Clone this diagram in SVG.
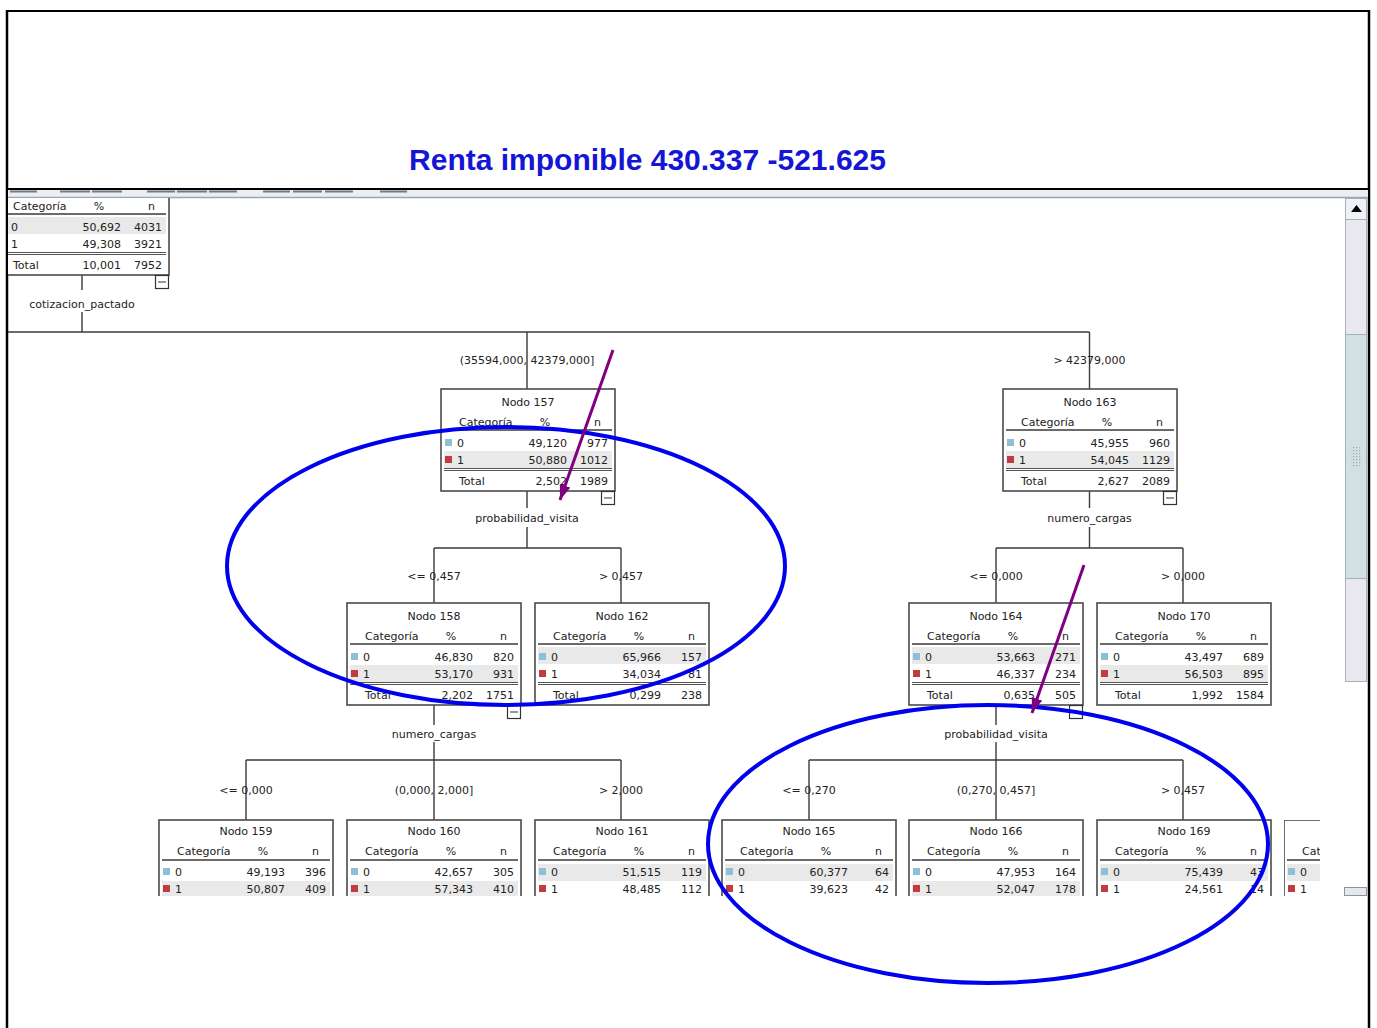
<svg xmlns="http://www.w3.org/2000/svg" width="1377" height="1028" viewBox="0 0 1377 1028">
<style>
.box{fill:#fff;stroke:#4a4a4a;stroke-width:1.6}
.hl{fill:#e9e9e9}
.hr{stroke:#6b6b6b;stroke-width:2}
.dl{stroke:#555;stroke-width:1}
.c0{fill:#8dbfd9}
.c1{fill:#c23b3e}
.t{font-family:"DejaVu Sans","Liberation Sans",sans-serif;font-size:11px;fill:#222;stroke:none}
.m{text-anchor:middle}
.e{text-anchor:end}
.cn{fill:none;stroke:#3a3a3a;stroke-width:1.4}
.mn{fill:#fff;stroke:#333;stroke-width:1.2}
.ell{fill:none;stroke:#0000ee;stroke-width:4}
.arr{stroke:#800080;stroke-width:3;marker-end:url(#ah)}
</style>
<defs>
<marker id="ah" markerUnits="userSpaceOnUse" markerWidth="16" markerHeight="12" refX="15" refY="5.5" orient="auto">
<path d="M0,0 L15,5.5 L0,11 z" fill="#800080"/>
</marker>
<clipPath id="tree"><rect x="8" y="198" width="1336" height="698"/></clipPath>
<clipPath id="cut"><rect x="0" y="0" width="36" height="200"/></clipPath>
<pattern id="grip" width="3" height="3" patternUnits="userSpaceOnUse"><rect width="1.2" height="1.2" fill="#9aaab0"/></pattern>
</defs>
<rect width="1377" height="1028" fill="#fff"/>
<g id="frame" stroke="#000" fill="none">
<line x1="7" y1="11" x2="1370" y2="11" stroke-width="2"/>
<line x1="7" y1="10" x2="7" y2="1028" stroke-width="2.5"/>
<line x1="1369" y1="10" x2="1369" y2="1028" stroke-width="2.5"/>
<line x1="7" y1="189" x2="1369" y2="189" stroke-width="2"/>
</g>
<text x="647.5" y="170" text-anchor="middle" font-family="Liberation Sans, Arial, sans-serif" font-weight="bold" font-size="30" fill="#1515d5">Renta imponible 430.337 -521.625</text>
<g id="toolbar">
<rect x="8" y="190" width="1360" height="7" fill="#eceef2"/>
<g stroke="#6f7b86" stroke-width="2">
<line x1="10" y1="191.5" x2="37" y2="191.5"/><line x1="60" y1="191.5" x2="90" y2="191.5"/><line x1="92" y1="191.5" x2="122" y2="191.5"/>
<line x1="147" y1="191.5" x2="175" y2="191.5"/><line x1="177" y1="191.5" x2="207" y2="191.5"/><line x1="209" y1="191.5" x2="237" y2="191.5"/>
<line x1="263" y1="191.5" x2="290" y2="191.5"/><line x1="293" y1="191.5" x2="322" y2="191.5"/><line x1="325" y1="191.5" x2="353" y2="191.5"/>
<line x1="380" y1="191.5" x2="407" y2="191.5"/>
</g>
<line x1="8" y1="197.5" x2="1368" y2="197.5" stroke="#9aa8b4" stroke-width="1.5"/>
</g>
<g id="scrollbar">
<rect x="1345.5" y="198.5" width="21" height="483" fill="#e8e8ee" stroke="#a5b0b8"/>
<rect x="1345.5" y="198.5" width="21" height="21" fill="#eff1f4" stroke="#a5b0b8"/>
<path d="M1351,212 L1356.5,205 L1362,212 z" fill="#000"/>
<rect x="1345.5" y="334.5" width="21" height="244" fill="#d2dfe3" stroke="#9fb3b9"/>
<rect x="1351" y="446" width="10" height="21" fill="url(#grip)"/>
<rect x="1344.5" y="887.5" width="22" height="8" fill="#e6e8ee" stroke="#8896a0"/>
</g>
<g clip-path="url(#tree)">
<g id="connectors">
<path class="cn" d="M82 275V290M82 312V332M8 332H1089.5M527 332V389M1089.5 332V389M527 491V508M527 527V548M434 548H621M434 548V603M621 548V603M1089.5 491V508M1089.5 527V548M996 548H1183M996 548V603M1183 548V603M434 705V725M434 742V760M246 760H621M246 760V820M434 760V820M621 760V820M996 705V725M996 742V760M809 760H1183M809 760V820M996 760V820M1183 760V820"/>
<text class="t m" x="82" y="308">cotizacion_pactado</text>
<text class="t m" x="527" y="364">(35594,000, 42379,000]</text>
<text class="t m" x="1089.5" y="364">&gt; 42379,000</text>
<text class="t m" x="527" y="522">probabilidad_visita</text>
<text class="t m" x="1089.5" y="522">numero_cargas</text>
<text class="t m" x="434" y="580">&lt;= 0,457</text>
<text class="t m" x="621" y="580">&gt; 0,457</text>
<text class="t m" x="996" y="580">&lt;= 0,000</text>
<text class="t m" x="1183" y="580">&gt; 0,000</text>
<text class="t m" x="434" y="738">numero_cargas</text>
<text class="t m" x="996" y="738">probabilidad_visita</text>
<text class="t m" x="246" y="794">&lt;= 0,000</text>
<text class="t m" x="434" y="794">(0,000, 2,000]</text>
<text class="t m" x="621" y="794">&gt; 2,000</text>
<text class="t m" x="809" y="794">&lt;= 0,270</text>
<text class="t m" x="996" y="794">(0,270, 0,457]</text>
<text class="t m" x="1183" y="794">&gt; 0,457</text>
</g>
<g id="node0" transform="translate(-5,173)">
<rect class="box" width="174" height="102"/>
<text class="t" x="18" y="37">Categoría</text><text class="t m" x="104" y="37">%</text><text class="t e" x="160" y="37">n</text>
<line class="hr" x1="3" y1="41" x2="171" y2="41"/>
<rect class="hl" x="3" y="44" width="168" height="17"/>
<rect class="c0" x="4" y="50" width="7" height="7"/><rect class="c1" x="4" y="67" width="7" height="7"/>
<text class="t" x="16" y="58">0</text><text class="t e" x="126" y="58">50,692</text><text class="t e" x="167" y="58">4031</text>
<text class="t" x="16" y="75">1</text><text class="t e" x="126" y="75">49,308</text><text class="t e" x="167" y="75">3921</text>
<line class="dl" x1="3" y1="79.5" x2="171" y2="79.5"/><line class="dl" x1="3" y1="81.5" x2="171" y2="81.5"/>
<text class="t" x="18" y="96">Total</text><text class="t e" x="126" y="96">10,001</text><text class="t e" x="167" y="96">7952</text>
<rect class="mn" x="160.5" y="102.5" width="13" height="13"/><line stroke="#333" x1="163" y1="109" x2="171" y2="109"/>
</g>
<g id="node157" transform="translate(441,389)">
<rect class="box" width="174" height="102"/>
<text class="t m" x="87" y="17">Nodo 157</text>
<text class="t" x="18" y="37">Categoría</text><text class="t m" x="104" y="37">%</text><text class="t e" x="160" y="37">n</text>
<line class="hr" x1="3" y1="41" x2="171" y2="41"/>
<rect class="hl" x="3" y="62" width="168" height="17"/>
<rect class="c0" x="4" y="50" width="7" height="7"/><rect class="c1" x="4" y="67" width="7" height="7"/>
<text class="t" x="16" y="58">0</text><text class="t e" x="126" y="58">49,120</text><text class="t e" x="167" y="58">977</text>
<text class="t" x="16" y="75">1</text><text class="t e" x="126" y="75">50,880</text><text class="t e" x="167" y="75">1012</text>
<line class="dl" x1="3" y1="79.5" x2="171" y2="79.5"/><line class="dl" x1="3" y1="81.5" x2="171" y2="81.5"/>
<text class="t" x="18" y="96">Total</text><text class="t e" x="126" y="96">2,502</text><text class="t e" x="167" y="96">1989</text>
<rect class="mn" x="160.5" y="102.5" width="13" height="13"/><line stroke="#333" x1="163" y1="109" x2="171" y2="109"/>
</g>
<g id="node163" transform="translate(1003,389)">
<rect class="box" width="174" height="102"/>
<text class="t m" x="87" y="17">Nodo 163</text>
<text class="t" x="18" y="37">Categoría</text><text class="t m" x="104" y="37">%</text><text class="t e" x="160" y="37">n</text>
<line class="hr" x1="3" y1="41" x2="171" y2="41"/>
<rect class="hl" x="3" y="62" width="168" height="17"/>
<rect class="c0" x="4" y="50" width="7" height="7"/><rect class="c1" x="4" y="67" width="7" height="7"/>
<text class="t" x="16" y="58">0</text><text class="t e" x="126" y="58">45,955</text><text class="t e" x="167" y="58">960</text>
<text class="t" x="16" y="75">1</text><text class="t e" x="126" y="75">54,045</text><text class="t e" x="167" y="75">1129</text>
<line class="dl" x1="3" y1="79.5" x2="171" y2="79.5"/><line class="dl" x1="3" y1="81.5" x2="171" y2="81.5"/>
<text class="t" x="18" y="96">Total</text><text class="t e" x="126" y="96">2,627</text><text class="t e" x="167" y="96">2089</text>
<rect class="mn" x="160.5" y="102.5" width="13" height="13"/><line stroke="#333" x1="163" y1="109" x2="171" y2="109"/>
</g>
<g id="node158" transform="translate(347,603)">
<rect class="box" width="174" height="102"/>
<text class="t m" x="87" y="17">Nodo 158</text>
<text class="t" x="18" y="37">Categoría</text><text class="t m" x="104" y="37">%</text><text class="t e" x="160" y="37">n</text>
<line class="hr" x1="3" y1="41" x2="171" y2="41"/>
<rect class="hl" x="3" y="62" width="168" height="17"/>
<rect class="c0" x="4" y="50" width="7" height="7"/><rect class="c1" x="4" y="67" width="7" height="7"/>
<text class="t" x="16" y="58">0</text><text class="t e" x="126" y="58">46,830</text><text class="t e" x="167" y="58">820</text>
<text class="t" x="16" y="75">1</text><text class="t e" x="126" y="75">53,170</text><text class="t e" x="167" y="75">931</text>
<line class="dl" x1="3" y1="79.5" x2="171" y2="79.5"/><line class="dl" x1="3" y1="81.5" x2="171" y2="81.5"/>
<text class="t" x="18" y="96">Total</text><text class="t e" x="126" y="96">2,202</text><text class="t e" x="167" y="96">1751</text>
<rect class="mn" x="160.5" y="102.5" width="13" height="13"/><line stroke="#333" x1="163" y1="109" x2="171" y2="109"/>
</g>
<g id="node162" transform="translate(535,603)">
<rect class="box" width="174" height="102"/>
<text class="t m" x="87" y="17">Nodo 162</text>
<text class="t" x="18" y="37">Categoría</text><text class="t m" x="104" y="37">%</text><text class="t e" x="160" y="37">n</text>
<line class="hr" x1="3" y1="41" x2="171" y2="41"/>
<rect class="hl" x="3" y="44" width="168" height="17"/>
<rect class="c0" x="4" y="50" width="7" height="7"/><rect class="c1" x="4" y="67" width="7" height="7"/>
<text class="t" x="16" y="58">0</text><text class="t e" x="126" y="58">65,966</text><text class="t e" x="167" y="58">157</text>
<text class="t" x="16" y="75">1</text><text class="t e" x="126" y="75">34,034</text><text class="t e" x="167" y="75">81</text>
<line class="dl" x1="3" y1="79.5" x2="171" y2="79.5"/><line class="dl" x1="3" y1="81.5" x2="171" y2="81.5"/>
<text class="t" x="18" y="96">Total</text><text class="t e" x="126" y="96">0,299</text><text class="t e" x="167" y="96">238</text>
</g>
<g id="node164" transform="translate(909,603)">
<rect class="box" width="174" height="102"/>
<text class="t m" x="87" y="17">Nodo 164</text>
<text class="t" x="18" y="37">Categoría</text><text class="t m" x="104" y="37">%</text><text class="t e" x="160" y="37">n</text>
<line class="hr" x1="3" y1="41" x2="171" y2="41"/>
<rect class="hl" x="3" y="44" width="168" height="17"/>
<rect class="c0" x="4" y="50" width="7" height="7"/><rect class="c1" x="4" y="67" width="7" height="7"/>
<text class="t" x="16" y="58">0</text><text class="t e" x="126" y="58">53,663</text><text class="t e" x="167" y="58">271</text>
<text class="t" x="16" y="75">1</text><text class="t e" x="126" y="75">46,337</text><text class="t e" x="167" y="75">234</text>
<line class="dl" x1="3" y1="79.5" x2="171" y2="79.5"/><line class="dl" x1="3" y1="81.5" x2="171" y2="81.5"/>
<text class="t" x="18" y="96">Total</text><text class="t e" x="126" y="96">0,635</text><text class="t e" x="167" y="96">505</text>
<rect class="mn" x="160.5" y="102.5" width="13" height="13"/><line stroke="#333" x1="163" y1="109" x2="171" y2="109"/>
</g>
<g id="node170" transform="translate(1097,603)">
<rect class="box" width="174" height="102"/>
<text class="t m" x="87" y="17">Nodo 170</text>
<text class="t" x="18" y="37">Categoría</text><text class="t m" x="104" y="37">%</text><text class="t e" x="160" y="37">n</text>
<line class="hr" x1="3" y1="41" x2="171" y2="41"/>
<rect class="hl" x="3" y="62" width="168" height="17"/>
<rect class="c0" x="4" y="50" width="7" height="7"/><rect class="c1" x="4" y="67" width="7" height="7"/>
<text class="t" x="16" y="58">0</text><text class="t e" x="126" y="58">43,497</text><text class="t e" x="167" y="58">689</text>
<text class="t" x="16" y="75">1</text><text class="t e" x="126" y="75">56,503</text><text class="t e" x="167" y="75">895</text>
<line class="dl" x1="3" y1="79.5" x2="171" y2="79.5"/><line class="dl" x1="3" y1="81.5" x2="171" y2="81.5"/>
<text class="t" x="18" y="96">Total</text><text class="t e" x="126" y="96">1,992</text><text class="t e" x="167" y="96">1584</text>
</g>
<g id="node159" transform="translate(159,820)">
<rect class="box" width="174" height="102"/>
<text class="t m" x="87" y="15">Nodo 159</text>
<text class="t" x="18" y="35">Categoría</text><text class="t m" x="104" y="35">%</text><text class="t e" x="160" y="35">n</text>
<line class="hr" x1="3" y1="40" x2="171" y2="40"/>
<rect class="hl" x="3" y="61" width="168" height="17"/>
<rect class="c0" x="4" y="48" width="7" height="7"/><rect class="c1" x="4" y="65" width="7" height="7"/>
<text class="t" x="16" y="56">0</text><text class="t e" x="126" y="56">49,193</text><text class="t e" x="167" y="56">396</text>
<text class="t" x="16" y="73">1</text><text class="t e" x="126" y="73">50,807</text><text class="t e" x="167" y="73">409</text>
</g>
<g id="node160" transform="translate(347,820)">
<rect class="box" width="174" height="102"/>
<text class="t m" x="87" y="15">Nodo 160</text>
<text class="t" x="18" y="35">Categoría</text><text class="t m" x="104" y="35">%</text><text class="t e" x="160" y="35">n</text>
<line class="hr" x1="3" y1="40" x2="171" y2="40"/>
<rect class="hl" x="3" y="61" width="168" height="17"/>
<rect class="c0" x="4" y="48" width="7" height="7"/><rect class="c1" x="4" y="65" width="7" height="7"/>
<text class="t" x="16" y="56">0</text><text class="t e" x="126" y="56">42,657</text><text class="t e" x="167" y="56">305</text>
<text class="t" x="16" y="73">1</text><text class="t e" x="126" y="73">57,343</text><text class="t e" x="167" y="73">410</text>
</g>
<g id="node161" transform="translate(535,820)">
<rect class="box" width="174" height="102"/>
<text class="t m" x="87" y="15">Nodo 161</text>
<text class="t" x="18" y="35">Categoría</text><text class="t m" x="104" y="35">%</text><text class="t e" x="160" y="35">n</text>
<line class="hr" x1="3" y1="40" x2="171" y2="40"/>
<rect class="hl" x="3" y="44" width="168" height="17"/>
<rect class="c0" x="4" y="48" width="7" height="7"/><rect class="c1" x="4" y="65" width="7" height="7"/>
<text class="t" x="16" y="56">0</text><text class="t e" x="126" y="56">51,515</text><text class="t e" x="167" y="56">119</text>
<text class="t" x="16" y="73">1</text><text class="t e" x="126" y="73">48,485</text><text class="t e" x="167" y="73">112</text>
</g>
<g id="node165" transform="translate(722,820)">
<rect class="box" width="174" height="102"/>
<text class="t m" x="87" y="15">Nodo 165</text>
<text class="t" x="18" y="35">Categoría</text><text class="t m" x="104" y="35">%</text><text class="t e" x="160" y="35">n</text>
<line class="hr" x1="3" y1="40" x2="171" y2="40"/>
<rect class="hl" x="3" y="44" width="168" height="17"/>
<rect class="c0" x="4" y="48" width="7" height="7"/><rect class="c1" x="4" y="65" width="7" height="7"/>
<text class="t" x="16" y="56">0</text><text class="t e" x="126" y="56">60,377</text><text class="t e" x="167" y="56">64</text>
<text class="t" x="16" y="73">1</text><text class="t e" x="126" y="73">39,623</text><text class="t e" x="167" y="73">42</text>
</g>
<g id="node166" transform="translate(909,820)">
<rect class="box" width="174" height="102"/>
<text class="t m" x="87" y="15">Nodo 166</text>
<text class="t" x="18" y="35">Categoría</text><text class="t m" x="104" y="35">%</text><text class="t e" x="160" y="35">n</text>
<line class="hr" x1="3" y1="40" x2="171" y2="40"/>
<rect class="hl" x="3" y="61" width="168" height="17"/>
<rect class="c0" x="4" y="48" width="7" height="7"/><rect class="c1" x="4" y="65" width="7" height="7"/>
<text class="t" x="16" y="56">0</text><text class="t e" x="126" y="56">47,953</text><text class="t e" x="167" y="56">164</text>
<text class="t" x="16" y="73">1</text><text class="t e" x="126" y="73">52,047</text><text class="t e" x="167" y="73">178</text>
</g>
<g id="node169" transform="translate(1097,820)">
<rect class="box" width="174" height="102"/>
<text class="t m" x="87" y="15">Nodo 169</text>
<text class="t" x="18" y="35">Categoría</text><text class="t m" x="104" y="35">%</text><text class="t e" x="160" y="35">n</text>
<line class="hr" x1="3" y1="40" x2="171" y2="40"/>
<rect class="hl" x="3" y="44" width="168" height="17"/>
<rect class="c0" x="4" y="48" width="7" height="7"/><rect class="c1" x="4" y="65" width="7" height="7"/>
<text class="t" x="16" y="56">0</text><text class="t e" x="126" y="56">75,439</text><text class="t e" x="167" y="56">43</text>
<text class="t" x="16" y="73">1</text><text class="t e" x="126" y="73">24,561</text><text class="t e" x="167" y="73">14</text>
</g>
<g id="node171" transform="translate(1284,820)">
<g clip-path="url(#cut)">
<rect class="box" width="174" height="102"/>
<text class="t" x="18" y="35">Cat</text>
<line class="hr" x1="3" y1="40" x2="171" y2="40"/>
<rect class="hl" x="3" y="44" width="168" height="17"/>
<rect class="c0" x="4" y="48" width="7" height="7"/><rect class="c1" x="4" y="65" width="7" height="7"/>
<text class="t" x="16" y="56">0</text>
<text class="t" x="16" y="73">1</text>
</g>
</g>
</g>
<g id="annotations">
<ellipse class="ell" cx="506" cy="566" rx="279" ry="139"/>
<ellipse class="ell" cx="988" cy="844" rx="280" ry="139"/>
<line class="arr" x1="613" y1="350" x2="560" y2="500"/>
<line class="arr" x1="1084" y1="565" x2="1032" y2="713"/>
</g>
</svg>
